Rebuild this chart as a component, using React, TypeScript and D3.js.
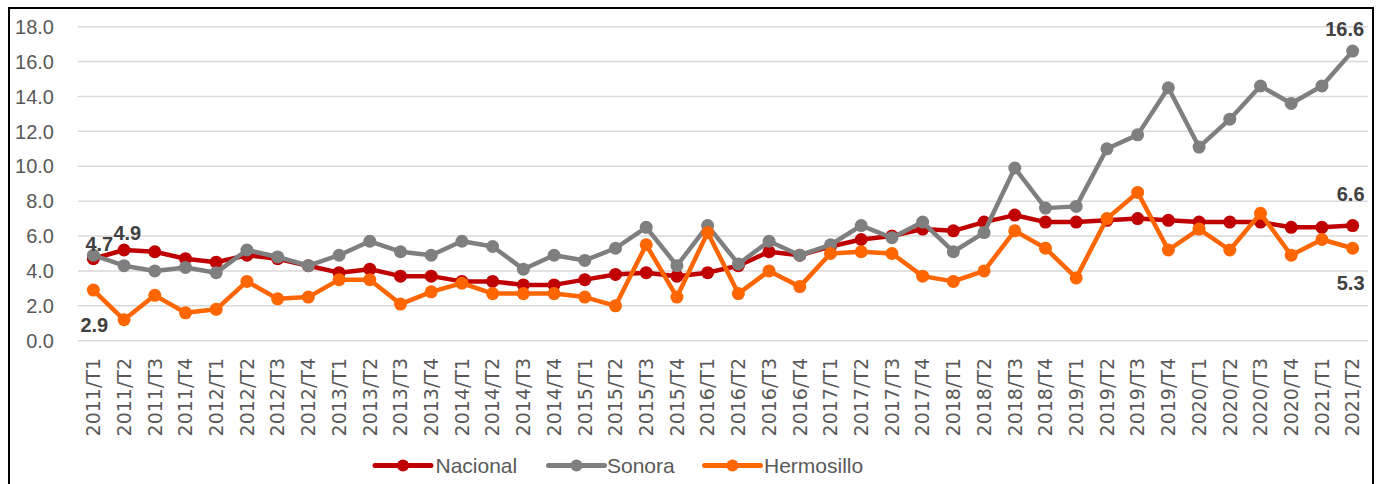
import React from "react";
import * as d3 from "d3";

const years = ["2011", "2012", "2013", "2014", "2015", "2016", "2017", "2018", "2019", "2020", "2021"];
const categories: string[] = [];
years.forEach((y) => {
  ["T1", "T2", "T3", "T4"].forEach((q) => {
    if (!(y === "2021" && (q === "T3" || q === "T4"))) categories.push(`${y}/${q}`);
  });
});

const nacional = [
  4.7, 5.2, 5.1, 4.7, 4.5, 4.9, 4.7, 4.3,
  3.9, 4.1, 3.7, 3.7, 3.4, 3.4, 3.2, 3.2,
  3.5, 3.8, 3.9, 3.7, 3.9, 4.3, 5.1, 4.9,
  5.4, 5.8, 6.0, 6.4, 6.3, 6.8, 7.2, 6.8,
  6.8, 6.9, 7.0, 6.9, 6.8, 6.8, 6.8, 6.5,
  6.5, 6.6,
];
const sonora = [
  4.9, 4.3, 4.0, 4.2, 3.9, 5.2, 4.8, 4.3,
  4.9, 5.7, 5.1, 4.9, 5.7, 5.4, 4.1, 4.9,
  4.6, 5.3, 6.5, 4.3, 6.6, 4.4, 5.7, 4.9,
  5.5, 6.6, 5.9, 6.8, 5.1, 6.2, 9.9, 7.6,
  7.7, 11.0, 11.8, 14.5, 11.1, 12.7, 14.6, 13.6,
  14.6, 16.6,
];
const hermosillo = [
  2.9, 1.2, 2.6, 1.6, 1.8, 3.4, 2.4, 2.5,
  3.5, 3.5, 2.1, 2.8, 3.3, 2.7, 2.7, 2.7,
  2.5, 2.0, 5.5, 2.5, 6.2, 2.7, 4.0, 3.1,
  5.0, 5.1, 5.0, 3.7, 3.4, 4.0, 6.3, 5.3,
  3.6, 7.0, 8.5, 5.2, 6.4, 5.2, 7.3, 4.9,
  5.8, 5.3,
];
const yTicks = [0, 2, 4, 6, 8, 10, 12, 14, 16, 18];

const seriesNames = ["Nacional", "Sonora", "Hermosillo"];
const seriesColors = ["#C00000", "#7F7F7F", "#FF6600"];
const seriesData = [nacional, sonora, hermosillo];

// data labels: [series index, point index, text, dx, dy]
const dataLabels: [number, number, string, number, number][] = [
  [0, 0, "4.7", 6, -8],
  [1, 0, "4.9", 34, -15],
  [2, 0, "2.9", 1, 42],
  [1, 41, "16.6", -8, -15],
  [0, 41, "6.6", -2, -25],
  [2, 41, "5.3", -2, 42],
];

export default function App() {
  const W = 1397;
  const H = 484;
  const left = 78;
  const right = 1368;
  const x = d3.scaleBand<string>().domain(categories).range([left, right]).padding(0);
  const cx = (i: number) => (x(categories[i]) as number) + x.bandwidth() / 2;
  const y = d3.scaleLinear().domain([0, 18]).range([340.7, 26.7]);
  const line = d3
    .line<number>()
    .x((_, i) => cx(i))
    .y((d) => y(d));

  const tickFont = "'Liberation Sans', Arial, sans-serif";
  const catFont = "'DejaVu Sans', Verdana, sans-serif";

  const legendItems = [
    { x0: 375, text: 435.5 },
    { x0: 548.5, text: 607 },
    { x0: 704.5, text: 764 },
  ];
  const legendY = 465.5;

  return (
    <svg
      width={W}
      height={H}
      style={{ position: "absolute", left: 0, top: 0, background: "#fff" }}
    >
      <rect x={0} y={0} width={W} height={H} fill="#fff" />
      {/* frame */}
      <path d={`M9,${H + 2} V8 H1373 V${H + 2}`} fill="none" stroke="#000" strokeWidth={2} />
      {/* gridlines */}
      {yTicks.map((t) => (
        <line key={t} x1={left} x2={right} y1={y(t)} y2={y(t)} stroke="#D9D9D9" strokeWidth={1.5} />
      ))}
      {/* y tick labels */}
      {yTicks.map((t) => (
        <text
          key={t}
          x={54}
          y={y(t)}
          dy="0.36em"
          textAnchor="end"
          fontFamily={tickFont}
          fontSize={20}
          fill="#595959"
        >
          {d3.format(".1f")(t)}
        </text>
      ))}
      {/* x tick labels */}
      {categories.map((c, i) => (
        <text
          key={c}
          transform={`translate(${cx(i)},358) rotate(-90)`}
          textAnchor="end"
          dy="0.36em"
          fontFamily={catFont}
          fontSize={19}
          fill="#595959"
        >
          {c}
        </text>
      ))}
      {/* series */}
      {seriesData.map((data, s) => (
        <g key={seriesNames[s]}>
          <path d={line(data) || ""} fill="none" stroke={seriesColors[s]} strokeWidth={4.5} strokeLinejoin="round" />
          {data.map((v, i) => (
            <circle key={i} cx={cx(i)} cy={y(v)} r={6.5} fill={seriesColors[s]} />
          ))}
        </g>
      ))}
      {/* data labels */}
      {dataLabels.map(([s, i, t, dx, dy]) => (
        <text
          key={`${s}-${i}`}
          x={cx(i) + dx}
          y={y(seriesData[s][i]) + dy}
          textAnchor="middle"
          fontFamily={tickFont}
          fontWeight="bold"
          fontSize={20}
          fill="#404040"
        >
          {t}
        </text>
      ))}
      {/* legend */}
      {legendItems.map((l, k) => (
        <g key={seriesNames[k]}>
          <line x1={l.x0} x2={l.x0 + 56} y1={legendY} y2={legendY} stroke={seriesColors[k]} strokeWidth={5} strokeLinecap="round" />
          <circle cx={l.x0 + 28} cy={legendY} r={6} fill={seriesColors[k]} />
          <text x={l.text} y={legendY} dy="0.36em" fontFamily={tickFont} fontSize={21} fill="#595959">
            {seriesNames[k]}
          </text>
        </g>
      ))}
    </svg>
  );
}
